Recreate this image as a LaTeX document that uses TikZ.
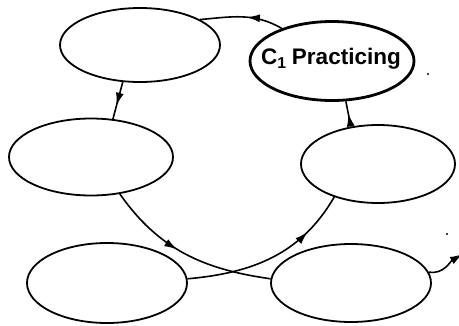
\documentclass[tikz,border=0pt]{standalone}
\usepackage{fontspec}
\setmainfont{Liberation Sans}
\usetikzlibrary{shapes.geometric,arrows.meta,decorations.markings}

\tikzset{
  bubble/.style={draw, ellipse, line width=1.8pt, inner sep=0pt},
  keybubble/.style={bubble, line width=2.8pt},
  conn/.style={line width=1.6pt},
  tip/.style={Latex[length=13pt,width=8pt]},
  midarrow/.style={postaction={decorate},
    decoration={markings, mark=at position #1 with {\arrow[line width=1.6pt]{Latex[length=13pt,width=8pt]}}}},
  endarrow/.style={-{Latex[length=13pt,width=8pt]}},
  lbl/.style={font=\bfseries\fontsize{22.5}{24}\selectfont, inner sep=0pt}
}

\begin{document}
\begin{tikzpicture}[x=1pt,y=1pt]
  \useasboundingbox (0,0) rectangle (459,-325);

  % the six stages of the cycle
  \node[bubble, minimum width=160pt, minimum height=74pt] (E1) at (140,-45) {};
  \node[keybubble, minimum width=164pt, minimum height=79pt] (C1) at (332,-61) {};
  \node[lbl] (C1text) at ([xshift=-1pt,yshift=2pt]C1.center) {C\textsubscript{1}\hspace{-1pt} Practicing};
  \node[bubble, minimum width=164pt, minimum height=77pt] (E3) at (91,-157) {};
  \node[bubble, minimum width=154pt, minimum height=78pt] (E4) at (378,-164) {};
  \node[bubble, minimum width=160pt, minimum height=80pt] (E5) at (107,-283) {};
  \node[bubble, minimum width=160pt, minimum height=78pt] (E6) at (351,-283) {};

  \coordinate (exit) at (463,-254);

  % connectors
  \draw[conn, midarrow=0.44] (C1.147) to[out=150, in=5] (E1.23);
  \draw[conn, midarrow=0.64] (E1.-115) -- (E3.60);
  \draw[conn, midarrow=0.52] (E4.126) -- (C1.-71);
  \draw[conn, midarrow=0.45] (E3.-52) to[out=-55, in=172] (E6.177);
  \draw[conn, midarrow=0.75] (E5.3) to[out=5, in=-120] (E4.-143);
  \draw[conn, endarrow] (E6.8) to[out=-10, in=210] (exit);

  % specks
  \fill (428,-74) circle (1.2pt);
  \fill (447,-234) circle (1.2pt);
\end{tikzpicture}
\end{document}
